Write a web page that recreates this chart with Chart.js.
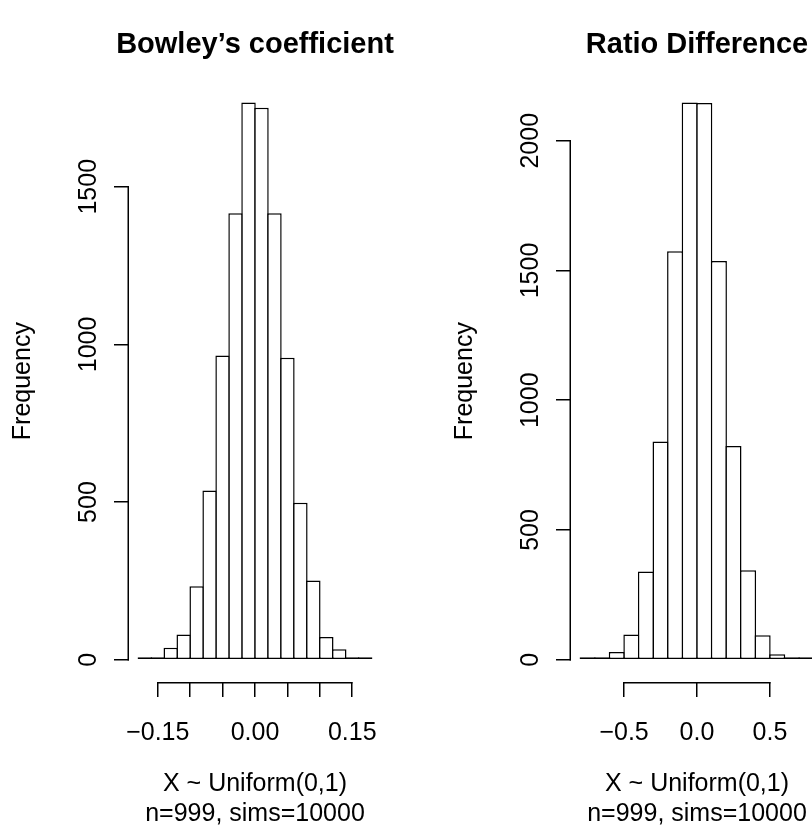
<!DOCTYPE html>
<html>
<head>
<meta charset="utf-8">
<script src="https://cdn.jsdelivr.net/npm/chart.js@4.4.1/dist/chart.umd.min.js"></script>
<style>
html, body { margin: 0; padding: 0; background: #fff; overflow: hidden; width: 812px; height: 835px; }
#wrap { position: relative; width: 812px; height: 835px; overflow: hidden; background: #fff; }
canvas { position: absolute; top: 0; }
#c1 { left: 0; }
#c2 { left: 442px; }
</style>
</head>
<body>
<div id="wrap">
  <canvas id="c1" width="510" height="835"></canvas>
  <canvas id="c2" width="510" height="835"></canvas>
</div>
<script>
// ---------- data ----------
const bowleyTitle = "Bowley\u2019s coefficient";
const bowleyBreaks = [-0.18, -0.16, -0.14, -0.12, -0.10, -0.08, -0.06, -0.04, -0.02, 0.00,
                      0.02, 0.04, 0.06, 0.08, 0.10, 0.12, 0.14, 0.16, 0.18];
const bowleyCounts = [2, 3, 38, 80, 233, 537, 965, 1416, 1767, 1751, 1416, 958, 498, 251, 72, 33, 6, 2];
const bowleyXTicks = [-0.15, -0.10, -0.05, 0.00, 0.05, 0.10, 0.15];
const bowleyXTickLabels = ["\u22120.15", "", "", "0.00", "", "", "0.15"];
const bowleyYTicks = [0, 500, 1000, 1500];

const ratioTitle = "Ratio Difference";
const ratioBreaks = [-0.8, -0.7, -0.6, -0.5, -0.4, -0.3, -0.2, -0.1, 0.0,
                     0.1, 0.2, 0.3, 0.4, 0.5, 0.6, 0.7, 0.8];
const ratioCounts = [1, 7, 30, 97, 340, 841, 1574, 2147, 2145, 1537, 824, 345, 94, 21, 4, 1];
const ratioXTicks = [-0.5, 0.0, 0.5];
const ratioXTickLabels = ["\u22120.5", "0.0", "0.5"];
const ratioYTicks = [0, 500, 1000, 1500, 2000];

const xAxisLabel = ["X ~ Uniform(0,1)", "n=999, sims=10000"];
const yAxisLabel = "Frequency";

// ---------- layout / style ----------
const CANVAS_W = 510;
const Y_AXIS_W = 129;
const RIGHT_PAD = 129;
const TOP_PAD = 80.3;
const X_AXIS_H = 153;
const LW = 1.5;
const FONT = '"Liberation Sans", Arial, Helvetica, sans-serif';

Chart.defaults.font.family = FONT;
Chart.defaults.color = '#000';

// R-style axes: line only between first and last tick, y labels parallel to axis,
// main title centred over the plot region.
const rAxes = {
  id: 'rAxes',
  afterDraw(chart, args, opts) {
    const ctx = chart.ctx;
    const xs = chart.scales.x, ys = chart.scales.y;
    const ca = chart.chartArea;
    const al = p => Math.round(p - LW / 2) + LW / 2;
    ctx.save();
    ctx.strokeStyle = '#000';
    ctx.lineWidth = LW;
    ctx.lineCap = 'butt';
    const xt = xs.ticks;
    const xa = al(xs.getPixelForValue(xt[0].value));
    const xb = al(xs.getPixelForValue(xt[xt.length - 1].value));
    const yLine = xs.top + LW / 2;
    ctx.beginPath();
    ctx.moveTo(xa - LW / 2, yLine);
    ctx.lineTo(xb + LW / 2, yLine);
    ctx.stroke();
    const yt = ys.ticks;
    const ya = al(ys.getPixelForValue(yt[0].value));
    const yb = al(ys.getPixelForValue(yt[yt.length - 1].value));
    const xLine = ys.right - LW / 2;
    ctx.beginPath();
    ctx.moveTo(xLine, ya + LW / 2);
    ctx.lineTo(xLine, yb - LW / 2);
    ctx.stroke();
    ctx.fillStyle = '#000';
    ctx.font = '25px ' + FONT;
    ctx.textAlign = 'center';
    ctx.textBaseline = 'alphabetic';
    for (const t of yt) {
      const y = ys.getPixelForValue(t.value);
      ctx.save();
      ctx.translate(ys.right - 33, y);
      ctx.rotate(-Math.PI / 2);
      ctx.fillText(String(t.value), 0, 0);
      ctx.restore();
    }
    // main title
    ctx.font = 'bold 29px ' + FONT;
    ctx.textAlign = 'center';
    ctx.textBaseline = 'middle';
    ctx.fillText(opts.title, (ca.left + ca.right) / 2, 44.5);
    ctx.restore();
  }
};

function makeHist(id, title, breaks, counts, xTicks, xTickLabels, yTicks) {
  const mids = [];
  for (let i = 0; i < counts.length; i++) mids.push((breaks[i] + breaks[i + 1]) / 2);
  const bMin = breaks[0], bMax = breaks[breaks.length - 1];
  const xPad = (bMax - bMin) * 0.04;
  const xMin = bMin - xPad, xMax = bMax + xPad;
  const cMax = Math.max(...counts);
  const yMin = -cMax * 0.04, yMax = cMax * 1.04;
  const plotW = CANVAS_W - Y_AXIS_W - RIGHT_PAD;
  const binPx = plotW * (breaks[1] - breaks[0]) / (xMax - xMin);
  const barPct = (binPx + LW) / binPx;

  return new Chart(document.getElementById(id), {
    type: 'bar',
    data: {
      datasets: [{
        data: mids.map((m, i) => ({ x: m, y: counts[i] })),
        backgroundColor: '#ffffff',
        borderColor: '#000000',
        borderWidth: LW,
        borderSkipped: false,
        inflateAmount: 0,
        minBarLength: 2.5,
        barPercentage: barPct,
        categoryPercentage: 1,
        grouped: false
      }]
    },
    options: {
      responsive: false,
      animation: false,
      devicePixelRatio: 1,
      events: [],
      layout: { padding: { top: TOP_PAD, right: RIGHT_PAD, bottom: 0, left: 0 } },
      plugins: {
        legend: { display: false },
        tooltip: { enabled: false },
        title: { display: false },
        rAxes: { title: title }
      },
      scales: {
        x: {
          type: 'linear',
          min: xMin,
          max: xMax,
          offset: false,
          afterBuildTicks: s => { s.ticks = xTicks.map(v => ({ value: v })); },
          afterFit: s => { s.height = X_AXIS_H; },
          ticks: {
            autoSkip: false,
            maxRotation: 0,
            minRotation: 0,
            padding: 21.3,
            color: '#000',
            font: { size: 25, family: FONT },
            callback: (v, i) => xTickLabels[i]
          },
          grid: {
            offset: false,
            drawOnChartArea: false,
            drawTicks: true,
            tickLength: 15,
            lineWidth: LW,
            color: '#000'
          },
          border: { display: false },
          title: {
            display: true,
            text: xAxisLabel,
            color: '#000',
            font: { size: 25, family: FONT },
            padding: { top: 0, bottom: 5.7 }
          }
        },
        y: {
          type: 'linear',
          min: yMin,
          max: yMax,
          afterBuildTicks: s => { s.ticks = yTicks.map(v => ({ value: v })); },
          afterFit: s => { s.width = Y_AXIS_W; },
          ticks: { display: false },
          grid: {
            drawOnChartArea: false,
            drawTicks: true,
            tickLength: 15,
            lineWidth: LW,
            color: '#000'
          },
          border: { display: false },
          title: {
            display: true,
            text: yAxisLabel,
            color: '#000',
            font: { size: 25, family: FONT },
            padding: { top: 8.3, bottom: 0 }
          }
        }
      }
    },
    plugins: [rAxes]
  });
}

makeHist('c1', bowleyTitle, bowleyBreaks, bowleyCounts, bowleyXTicks, bowleyXTickLabels, bowleyYTicks);
makeHist('c2', ratioTitle, ratioBreaks, ratioCounts, ratioXTicks, ratioXTickLabels, ratioYTicks);
</script>
</body>
</html>
